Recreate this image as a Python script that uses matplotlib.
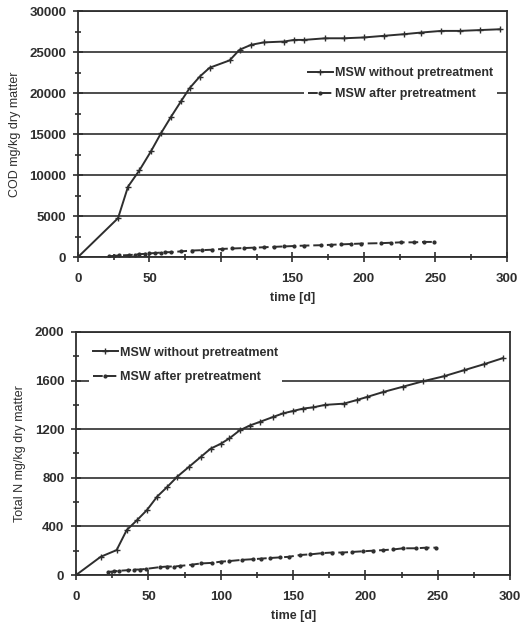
import numpy as np
import matplotlib.pyplot as plt
from matplotlib.ticker import MultipleLocator

plt.rcParams['font.family'] = ['Liberation Sans', 'DejaVu Sans']

# COD - MSW without pretreatment
cod_raw_t = [0, 28, 35, 43, 51, 58, 65, 72, 78, 85, 92, 106, 113, 121, 130, 144, 151, 158,
             173, 186, 200, 214, 228, 240, 254, 267, 281, 295]
cod_raw = [0, 4750, 8600, 10600, 12900, 15100, 17100, 19000, 20600, 22000, 23100, 24000,
           25300, 25900, 26200, 26300, 26500, 26500, 26700, 26700, 26800, 27000, 27200,
           27400, 27600, 27600, 27700, 27800]

# COD - MSW after pretreatment
cod_pre_t = [22, 25, 29, 36, 40, 43, 47, 50, 54, 58, 61, 65, 72, 80, 87, 94, 101, 108, 116,
             123, 130, 137, 144, 151, 158, 170, 177, 184, 191, 198, 212, 219, 226, 235, 242, 249]
cod_pre = [100, 150, 200, 250, 300, 350, 400, 450, 500, 550, 600, 600, 700, 800, 850, 900,
           1000, 1050, 1100, 1150, 1200, 1250, 1300, 1350, 1400, 1450, 1500, 1550, 1600, 1650,
           1700, 1750, 1800, 1800, 1850, 1850]

# Total N - MSW without pretreatment
n_raw_t = [0, 17, 28, 35, 42, 49, 56, 63, 70, 78, 86, 93, 100, 106, 113, 120, 127, 136, 143,
           150, 157, 164, 172, 185, 194, 201, 212, 226, 240, 254, 268, 282, 295]
n_raw = [0, 150, 205, 370, 450, 535, 645, 725, 810, 890, 970, 1040, 1080, 1125, 1190, 1230,
         1260, 1300, 1330, 1350, 1370, 1380, 1400, 1410, 1440, 1465, 1505, 1550, 1595, 1635,
         1685, 1735, 1785]

# Total N - MSW after pretreatment
n_pre_t = [22, 26, 30, 36, 40, 44, 48, 58, 63, 68, 72, 80, 86, 94, 100, 106, 115, 122, 128,
           134, 141, 147, 155, 162, 170, 177, 184, 191, 198, 205, 212, 219, 226, 235, 242, 249]
n_pre = [25, 30, 35, 40, 45, 45, 50, 65, 70, 70, 75, 85, 95, 100, 110, 115, 125, 130, 135,
         140, 145, 150, 165, 170, 180, 185, 185, 190, 195, 200, 205, 210, 220, 220, 225, 225]

labels = ['MSW without pretreatment', 'MSW after pretreatment']
ink = '#2e2e2e'

fig = plt.figure(figsize=(5.32, 6.24), dpi=100)
ax1 = fig.add_axes([0.1466, 0.588, 0.8064, 0.394])
ax2 = fig.add_axes([0.143, 0.0785, 0.816, 0.3895])


def style(ax, ymax, ymajor, yminor, xlabels, ylabel):
    ax.set_xlim(0, 300)
    ax.set_ylim(0, ymax)
    ax.set_xticks(np.arange(0, 301, 50))
    ax.set_xticklabels(xlabels)
    ax.xaxis.set_minor_locator(MultipleLocator(25))
    ax.yaxis.set_major_locator(MultipleLocator(ymajor))
    ax.yaxis.set_minor_locator(MultipleLocator(yminor))
    ax.tick_params(which='both', direction='inout', colors=ink, width=1.2)
    ax.tick_params(which='major', length=7, labelsize=9.5)
    ax.tick_params(axis='x', which='major', pad=8)
    ax.tick_params(axis='y', which='major', pad=5)
    ax.tick_params(which='minor', length=5)
    for lab in ax.get_xticklabels() + ax.get_yticklabels():
        lab.set_fontweight('bold')
    ax.grid(axis='y', which='major', color=ink, linewidth=1.2)
    ax.set_axisbelow(True)
    for s in ax.spines.values():
        s.set_color(ink)
        s.set_linewidth(1.3)
    ax.set_xlabel('time [d]', fontsize=9, fontweight='bold', color=ink, labelpad=5)
    ax.set_ylabel(ylabel, fontsize=9, color=ink, labelpad=6)


def legend_style(leg):
    leg.get_frame().set_edgecolor('none')
    leg.get_frame().set_facecolor('white')
    leg.get_frame().set_alpha(1)
    for t in leg.get_texts():
        t.set_fontweight('bold')
        t.set_color(ink)


# COD chart
ax1.plot(cod_raw_t, cod_raw, '-', color=ink, lw=1.4, marker='+', ms=4, label=labels[0])
ax1.plot(cod_pre_t, cod_pre, '--', color=ink, lw=1.4, marker='.', ms=4, dashes=(5, 2),
         label=labels[1])
style(ax1, 30000, 5000, 2500, ['0', '50', '', '150', '200', '250', '300'],
      'COD mg/kg dry matter')
leg1 = ax1.legend(loc='upper right', bbox_to_anchor=(0.977, 0.787), borderaxespad=0,
                  frameon=True, fontsize=9, handlelength=2.0, handletextpad=0.2,
                  borderpad=0.3, labelspacing=0.7)
legend_style(leg1)

# Total N chart
ax2.plot(n_raw_t, n_raw, '-', color=ink, lw=1.4, marker='+', ms=4, label=labels[0])
ax2.plot(n_pre_t, n_pre, '--', color=ink, lw=1.4, marker='.', ms=4, dashes=(5, 2),
         label=labels[1])
style(ax2, 2000, 400, 200, ['0', '50', '100', '150', '200', '250', '300'],
      'Total N mg/kg dry matter')
leg2 = ax2.legend(loc='upper left', bbox_to_anchor=(0.03, 0.955), borderaxespad=0,
                  frameon=True, fontsize=9, handlelength=2.0, handletextpad=0.2,
                  borderpad=0.3, labelspacing=1.0)
legend_style(leg2)

plt.savefig('out.png', dpi=100)
